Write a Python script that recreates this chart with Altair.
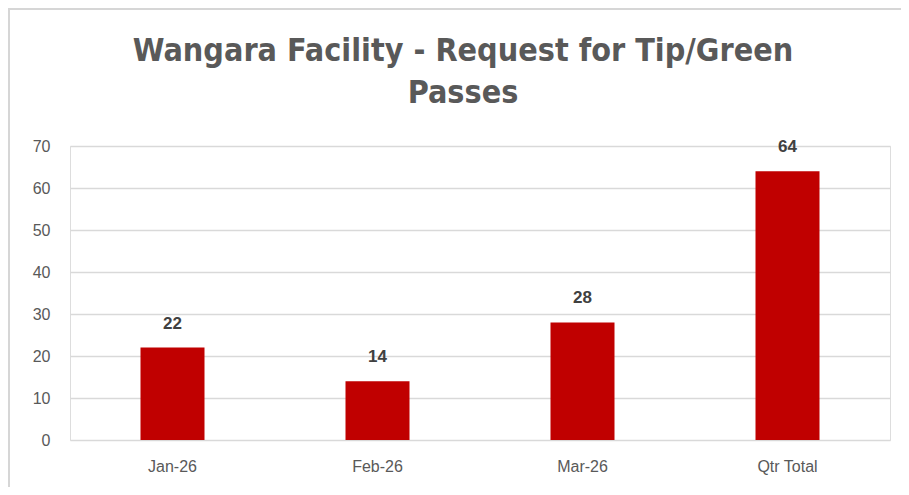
import altair as alt
import pandas as pd

categories = ["Jan-26", "Feb-26", "Mar-26", "Qtr Total"]
values = [22, 14, 28, 64]
title_lines = ["Wangara Facility - Request for Tip/Green", "Passes"]

df = pd.DataFrame({"month": categories, "passes": values})

W, H = 820, 294
PL, PT, PR, PB = 62, 138, 11, 47

base = alt.Chart(df)

bars = base.mark_bar(color="#C00000", size=64).encode(
    x=alt.X("month:N", sort=categories, title=None,
            axis=alt.Axis(labelAngle=0, labelFontSize=16, labelColor="#595959",
                          labelFont="Liberation Sans", labelPadding=18,
                          ticks=False, domain=False, grid=False),
            scale=alt.Scale(paddingInner=0.0, paddingOuter=0.0)),
    y=alt.Y("passes:Q", title=None,
            scale=alt.Scale(domain=[0, 70]),
            axis=alt.Axis(values=[0, 10, 20, 30, 40, 50, 60, 70], labelFontSize=16,
                          labelColor="#595959", labelFont="Liberation Sans",
                          labelPadding=20, ticks=False, domain=False,
                          gridColor="#d9d9d9", gridWidth=1.5)),
)

labels = base.mark_text(fontSize=17, fontWeight="bold", color="#404040",
                        baseline="bottom", dy=-15, font="Liberation Sans").encode(
    x=alt.X("month:N", sort=categories),
    y=alt.Y("passes:Q"),
    text=alt.Text("passes:Q"),
)

one = pd.DataFrame({"a": [0]})
top_line = alt.Chart(one).mark_rule(color="#d6d6d6", strokeWidth=2, clip=False).encode(
    x=alt.value(-PL), x2=alt.value(W + PR), y=alt.value(-PT + 1)
)
left_line = alt.Chart(one).mark_rule(color="#d6d6d6", strokeWidth=2, clip=False).encode(
    x=alt.value(-PL + 1), y=alt.value(-PT), y2=alt.value(H + PB)
)

title_df = pd.DataFrame({"line": title_lines, "yy": [-85, -43]})
title = alt.Chart(title_df).mark_text(
    font="'DejaVu Sans Condensed', Roboto, sans-serif", fontSize=32, fontWeight="bold",
    color="#595959", align="center", baseline="alphabetic", clip=False).encode(
    x=alt.value(393), y=alt.Y("yy:Q", scale=None), text="line:N"
)

chart = alt.layer(top_line, left_line, bars, labels, title).properties(
    width=W, height=H,
    padding={"left": PL, "top": PT, "right": PR, "bottom": PB},
    autosize=alt.AutoSizeParams(type="none"),
).configure_view(strokeWidth=0).configure(background="white")

chart.save("out.html", embed_options={"renderer": "svg", "actions": False})
